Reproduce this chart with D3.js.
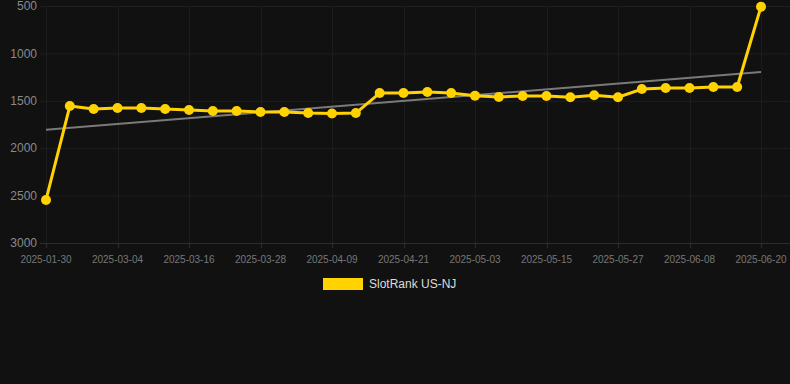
<!DOCTYPE html>
<html>
<head>
<meta charset="utf-8">
<script src="https://cdn.jsdelivr.net/npm/d3@7"></script>
<style>
  html, body { margin: 0; padding: 0; background: #111111; }
  svg { display: block; font-family: "Liberation Sans", Arial, sans-serif; }
</style>
</head>
<body>
<div id="viz"></div>
<script>
var width = 790,
    height = 384;

// dates on the category axis
var dates = ["2025-01-30", "2025-02-24", "2025-02-28", "2025-03-04", "2025-03-08", "2025-03-12",
    "2025-03-16", "2025-03-20", "2025-03-24", "2025-03-28", "2025-04-01", "2025-04-05",
    "2025-04-09", "2025-04-13", "2025-04-17", "2025-04-21", "2025-04-25", "2025-04-29",
    "2025-05-03", "2025-05-07", "2025-05-11", "2025-05-15", "2025-05-19", "2025-05-23",
    "2025-05-27", "2025-05-31", "2025-06-04", "2025-06-08", "2025-06-12", "2025-06-16",
    "2025-06-20"];

// SlotRank US-NJ (lower rank is better, axis is inverted)
var ranks = [2546, 1555, 1587, 1576, 1576, 1587, 1597, 1608, 1608, 1618, 1618, 1629,
    1634, 1629, 1418, 1418, 1407, 1418, 1446, 1460, 1449, 1449, 1463, 1442,
    1463, 1376, 1365, 1365, 1354, 1354, 507];

var yTicks = [500, 1000, 1500, 2000, 2500, 3000];
var seriesName = "SlotRank US-NJ";

var plot = {left: 40, right: 790, top: 6, bottom: 243};

var svg = d3.select("#viz").append("svg")
    .attr("width", width)
    .attr("height", height);

var x = d3.scalePoint()
    .domain(dates)
    .range([46, 761]);

var y = d3.scaleLinear()
    .domain([500, 3000])
    .range([plot.top, plot.bottom]);

// horizontal grid + y labels
var yAxis = svg.append("g").attr("class", "y-axis");
yAxis.selectAll("line")
    .data(yTicks)
    .enter().append("line")
    .attr("x1", plot.left)
    .attr("x2", plot.right)
    .attr("y1", function(d) { return y(d) + 0.5; })
    .attr("y2", function(d) { return y(d) + 0.5; })
    .attr("stroke", function(d) { return d == 3000 ? "#2c2c2c" : "#1f1f1f"; })
    .attr("stroke-width", 1);

yAxis.selectAll("text")
    .data(yTicks)
    .enter().append("text")
    .attr("x", 37)
    .attr("y", function(d) { return y(d); })
    .attr("dy", "0.35em")
    .attr("text-anchor", "end")
    .attr("fill", "#8a8a8a")
    .attr("font-size", 12)
    .text(function(d) { return d; });

// vertical grid every third date
var xTicks = dates.filter(function(d, i) { return i % 3 == 0; });
var xAxis = svg.append("g").attr("class", "x-axis");
xAxis.selectAll("line.grid")
    .data(xTicks)
    .enter().append("line")
    .attr("class", "grid")
    .attr("x1", function(d) { return Math.round(x(d)) + 0.5; })
    .attr("x2", function(d) { return Math.round(x(d)) + 0.5; })
    .attr("y1", plot.top)
    .attr("y2", plot.bottom)
    .attr("stroke", "#1c1c1c");

xAxis.selectAll("line.tick")
    .data(xTicks)
    .enter().append("line")
    .attr("class", "tick")
    .attr("x1", function(d) { return Math.round(x(d)) + 0.5; })
    .attr("x2", function(d) { return Math.round(x(d)) + 0.5; })
    .attr("y1", plot.bottom)
    .attr("y2", plot.bottom + 5)
    .attr("stroke", "#2c2c2c");

xAxis.selectAll("text")
    .data(xTicks)
    .enter().append("text")
    .attr("x", function(d) { return x(d); })
    .attr("y", 263)
    .attr("text-anchor", "middle")
    .attr("fill", "#777777")
    .attr("font-size", 10)
    .text(function(d) { return d; });

// linear trend of the ranks
var n = ranks.length,
    mx = d3.mean(ranks, function(d, i) { return i; }),
    my = d3.mean(ranks);
var sxy = 0, sxx = 0;
ranks.forEach(function(v, i) {
    sxy += (i - mx) * (v - my);
    sxx += (i - mx) * (i - mx);
});
var slope = sxy / sxx,
    intercept = my - slope * mx;

svg.append("line")
    .attr("x1", x(dates[0]))
    .attr("y1", y(intercept))
    .attr("x2", x(dates[n - 1]))
    .attr("y2", y(intercept + slope * (n - 1)))
    .attr("stroke", "#7a7a7a")
    .attr("stroke-width", 2);

// series line
var line = d3.line()
    .x(function(d, i) { return x(dates[i]); })
    .y(function(d) { return y(d); });

svg.append("path")
    .datum(ranks)
    .attr("d", line)
    .attr("fill", "none")
    .attr("stroke", "#ffd200")
    .attr("stroke-width", 3)
    .attr("stroke-linejoin", "round");

svg.append("g")
    .selectAll("circle")
    .data(ranks)
    .enter().append("circle")
    .attr("cx", function(d, i) { return x(dates[i]); })
    .attr("cy", function(d) { return y(d); })
    .attr("r", 5)
    .attr("fill", "#ffd200");

// legend
var legend = svg.append("g").attr("transform", "translate(323,278)");
legend.append("rect")
    .attr("width", 40)
    .attr("height", 12)
    .attr("fill", "#ffd200");
legend.append("text")
    .attr("x", 46)
    .attr("y", 6)
    .attr("dy", "0.35em")
    .attr("fill", "#dddddd")
    .attr("font-size", 12)
    .text(seriesName);
</script>
</body>
</html>
